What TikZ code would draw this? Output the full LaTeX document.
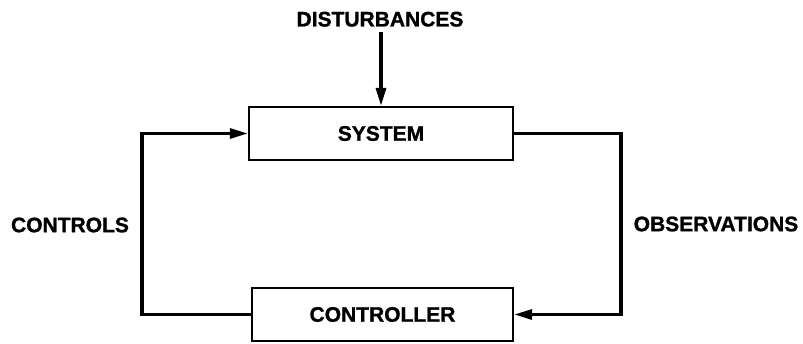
\documentclass[tikz,border=0pt]{standalone}
\usepackage{fontspec}
\setmainfont{Liberation Sans}[BoldFeatures={FakeBold=1.2}]
\usetikzlibrary{arrows.meta}
\begin{document}
\begin{tikzpicture}[x=1pt,y=-1pt,
  lbl/.style={font=\fontsize{21}{24}\selectfont\bfseries, inner sep=0pt},
  blockbox/.style={draw, line width=2.3pt, lbl, minimum width=#1, minimum height=53pt},
  link/.style={line width=3.2pt, -{Triangle[length=18pt,width=10pt]}}]
  \useasboundingbox (0,0) rectangle (803,343);
  % blocks
  \node[blockbox=264pt] (sys) at (381,133.5) {SYSTEM};
  \node[blockbox=261pt] (ctl) at (382.5,314.5) {CONTROLLER};
  % labels
  \node[lbl] (dist) at (380,19.2) {DISTURBANCES};
  \node[lbl] (ctrls) at (70,225) {CONTROLS};
  \node[lbl] (obs) at (716,224) {OBSERVATIONS};
  % loop corners
  \coordinate (lc) at (142,225);
  \coordinate (rc) at (621,225);
  % connectors
  \draw[link] (dist.south -| sys.north) ++(0,5) -- (sys.north);
  \draw[link] (ctl.west) -| (lc) |- (sys.west);
  \draw[link] (sys.east) -| (rc) |- (ctl.east);
\end{tikzpicture}
\end{document}
